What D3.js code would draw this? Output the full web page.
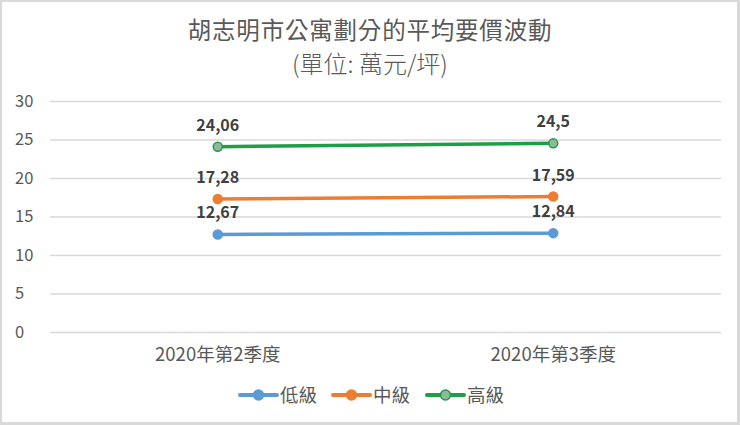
<!DOCTYPE html>
<html>
<head>
<meta charset="utf-8">
<script src="https://cdn.jsdelivr.net/npm/d3@7"></script>
<style>
html,body{margin:0;padding:0;background:#fff;}
svg{display:block;}
text{font-family:"Noto Sans CJK TC","Noto Sans",sans-serif;}
</style>
</head>
<body>
<svg id="chart" width="740" height="425"></svg>
<script>
const categories = ["2020年第2季度", "2020年第3季度"];
const seriesNames = ["低級", "中級", "高級"];
const lowValues = [12.67, 12.84];
const midValues = [17.28, 17.59];
const highValues = [24.06, 24.5];
const yTicks = [0, 5, 10, 15, 20, 25, 30];
const titleText = "胡志明市公寓劃分的平均要價波動";
const subtitleText = "(單位: 萬元/坪)";

const colors = ["#5b9bd5", "#ed7d31", "#1e9e46"];
const markerFills = ["#5b9bd5", "#ed7d31", "#8fb99a"];

const series = [lowValues, midValues, highValues].map((vals, i) => ({
  name: seriesNames[i], values: vals, color: colors[i], fill: markerFills[i]
}));

const svg = d3.select("#chart");
const W = 740, H = 425;

// frame
svg.append("rect").attr("x", 0).attr("y", 0).attr("width", W).attr("height", H).attr("fill", "#d9d9d9");
svg.append("rect").attr("x", 2).attr("y", 2).attr("width", 735).attr("height", 420).attr("fill", "#fff");

const plot = {left: 50, right: 721, top: 101, bottom: 332};

const x = d3.scaleBand().domain(categories).range([plot.left, plot.right]);
const y = d3.scaleLinear().domain([0, 30]).range([plot.bottom, plot.top]);

// title
svg.append("text").attr("x", 370).attr("y", 39).attr("text-anchor", "middle")
  .attr("font-size", 23.5).attr("fill", "#595959").attr("letter-spacing", 0.8).text(titleText);
svg.append("text").attr("x", 370).attr("y", 73).attr("text-anchor", "middle")
  .attr("font-size", 24).attr("font-weight", 300).attr("fill", "#595959").text(subtitleText);

// gridlines
const yAxis = d3.axisLeft(y).tickValues(yTicks).tickSize(-(plot.right - plot.left)).tickPadding(15);
const gy = svg.append("g").attr("transform", `translate(${plot.left},0)`).call(yAxis);
gy.select(".domain").remove();
gy.selectAll(".tick line").attr("stroke", "#d9d9d9").attr("stroke-width", 1.3);
gy.selectAll(".tick text").attr("font-size", 16.5).attr("fill", "#595959")
  .attr("font-family", "'Open Sans','Noto Sans',sans-serif").attr("text-anchor", "start").attr("x", -35);

// x axis labels
const xAxis = d3.axisBottom(x).tickSize(0).tickPadding(16);
const gx = svg.append("g").attr("transform", `translate(0,${plot.bottom})`).call(xAxis);
gx.select(".domain").remove();
gx.selectAll(".tick text").attr("font-size", 18.5).attr("fill", "#595959");

const cx = d => x(d) + x.bandwidth() / 2;

const line = d3.line().x((d, i) => cx(categories[i])).y(d => y(d));

series.forEach(s => {
  svg.append("path").datum(s.values).attr("d", line)
    .attr("fill", "none").attr("stroke", s.color).attr("stroke-width", 3.5).attr("stroke-linecap", "round");
  svg.selectAll(null).data(s.values).enter().append("circle")
    .attr("cx", (d, i) => cx(categories[i])).attr("cy", d => y(d)).attr("r", 4.5)
    .attr("fill", s.fill).attr("stroke", s.color).attr("stroke-width", 1.5);
  svg.selectAll(null).data(s.values).enter().append("text")
    .attr("x", (d, i) => cx(categories[i])).attr("y", d => y(d) - 16)
    .attr("text-anchor", "middle").attr("font-size", 16).attr("font-weight", "bold")
    .attr("font-family", "'Open Sans','Noto Sans',sans-serif")
    .attr("fill", "#404040").text(d => String(d).replace(".", ","));
});

// legend
const legendX = [240, 333, 427];
const legendY = 395;
series.forEach((s, i) => {
  const g = svg.append("g").attr("transform", `translate(${legendX[i]},${legendY})`);
  g.append("line").attr("x1", 0).attr("x2", 37).attr("y1", 0).attr("y2", 0)
    .attr("stroke", s.color).attr("stroke-width", 4).attr("stroke-linecap", "round");
  g.append("circle").attr("cx", 18.5).attr("cy", 0).attr("r", 5)
    .attr("fill", s.fill).attr("stroke", s.color).attr("stroke-width", 1.5);
  g.append("text").attr("x", 40).attr("y", 7).attr("font-size", 18.5).attr("fill", "#595959").text(s.name);
});
</script>
</body>
</html>
